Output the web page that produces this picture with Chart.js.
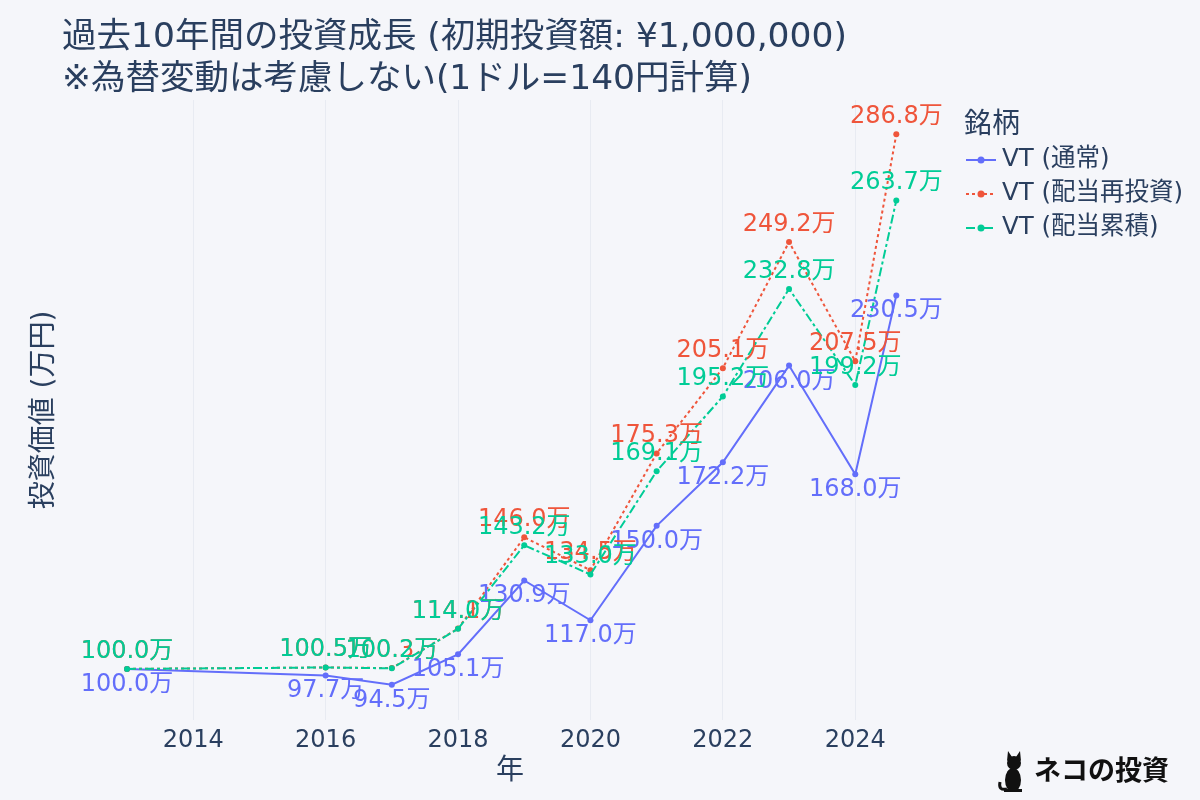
<!DOCTYPE html>
<html>
<head>
<meta charset="utf-8">
<script src="https://cdn.jsdelivr.net/npm/chart.js@4.4.1/dist/chart.umd.min.js"></script>
<style>
  html, body { margin: 0; background: #f5f6fa; }
  #wrap { width: 1200px; height: 800px; }
</style>
</head>
<body>
<div id="wrap"><canvas id="chart" width="1200" height="800"></canvas></div>
<script>
// values (万円)
const years = [2013, 2016, 2017, 2018, 2019, 2020, 2021, 2022, 2023, 2024, 2024.62];
const vtNormal = [100.0, 97.7, 94.5, 105.1, 130.9, 117.0, 150.0, 172.2, 206.0, 168.0, 230.5];
const vtReinvest = [100.0, 100.5, 100.3, 114.1, 146.0, 134.5, 175.3, 205.1, 249.2, 207.5, 286.8];
const vtAccum = [100.0, 100.5, 100.2, 114.0, 143.2, 133.0, 169.1, 195.2, 232.8, 199.2, 263.7];
const tickYears = [2014, 2016, 2018, 2020, 2022, 2024];
const seriesNames = ["VT (通常)", "VT (配当再投資)", "VT (配当累積)"];

const FONT = '"DejaVu Sans", "Noto Sans CJK JP", sans-serif';
const TEXT = "#2a3f5f";
const BG = "#f5f6fa";

const toPoints = (vals) => vals.map((v, i) => ({ x: years[i], y: v }));

const makeSet = (name, vals, color, dash, order, labelPos) => ({
  label: name,
  data: toPoints(vals),
  borderColor: color,
  backgroundColor: color,
  borderWidth: 2,
  borderDash: dash,
  pointRadius: 3,
  pointBorderWidth: 0,
  pointBackgroundColor: color,
  tension: 0,
  fill: false,
  order: order,
  labelPos: labelPos,
});

const datasets = [
  makeSet(seriesNames[0], vtNormal, "#636efa", [], 2, "below"),
  makeSet(seriesNames[1], vtReinvest, "#ef553b", [3, 3], 1, "above"),
  makeSet(seriesNames[2], vtAccum, "#00cc96", [9, 3, 3, 3], 0, "above"),
];

const bgPlugin = {
  id: "bg",
  beforeDraw(chart) {
    const ctx = chart.ctx;
    ctx.save();
    ctx.fillStyle = BG;
    ctx.fillRect(0, 0, chart.width, chart.height);
    ctx.restore();
  },
};

// value labels: 青は点の下、赤・緑は点の上
const labelPlugin = {
  id: "pointLabels",
  afterDatasetsDraw(chart) {
    const ctx = chart.ctx;
    ctx.save();
    ctx.font = "24px " + FONT;
    ctx.textAlign = "center";
    ctx.textBaseline = "alphabetic";
    chart.data.datasets.forEach((ds, i) => {
      const meta = chart.getDatasetMeta(i);
      ctx.fillStyle = ds.borderColor;
      meta.data.forEach((pt, j) => {
        const txt = ds.data[j].y.toFixed(1) + "万";
        const y = ds.labelPos === "below" ? pt.y + 22 : pt.y - 11;
        ctx.fillText(txt, pt.x, y);
      });
    });
    ctx.restore();
  },
};

const decorPlugin = {
  id: "decor",
  afterDraw(chart) {
    const ctx = chart.ctx;
    const area = chart.chartArea;
    ctx.save();
    ctx.fillStyle = TEXT;
    ctx.textAlign = "left";
    ctx.textBaseline = "middle";
    ctx.font = "34.5px " + FONT;
    ctx.fillText("過去10年間の投資成長 (初期投資額: ¥1,000,000)", 62, 38);
    ctx.fillText("※為替変動は考慮しない(1ドル=140円計算)", 62, 80);

    // axis titles
    ctx.font = "28px " + FONT;
    ctx.textAlign = "center";
    ctx.fillText("年", (area.left + area.right) / 2, 772);
    ctx.save();
    ctx.translate(45, (area.top + area.bottom) / 2);
    ctx.rotate(-Math.PI / 2);
    ctx.fillText("投資価値 (万円)", 0, 0);
    ctx.restore();

    // legend
    ctx.textAlign = "left";
    ctx.font = "28px " + FONT;
    ctx.fillText("銘柄", 964, 126);
    ctx.font = "24.5px " + FONT;
    const rows = [160, 194, 228];
    chart.data.datasets.forEach((ds, i) => {
      const y = rows[i];
      ctx.strokeStyle = ds.borderColor;
      ctx.lineWidth = 2;
      ctx.setLineDash(ds.borderDash);
      ctx.beginPath();
      ctx.moveTo(966, y);
      ctx.lineTo(996, y);
      ctx.stroke();
      ctx.setLineDash([]);
      ctx.fillStyle = ds.borderColor;
      ctx.beginPath();
      ctx.arc(981, y, 3.5, 0, Math.PI * 2);
      ctx.fill();
      ctx.fillStyle = TEXT;
      ctx.fillText(ds.label, 1002, y);
    });

    // watermark cat + ネコの投資
    ctx.fillStyle = "#111";
    ctx.beginPath();
    ctx.ellipse(1013, 780, 8, 12, 0, 0, Math.PI * 2);
    ctx.fill();
    ctx.beginPath();
    ctx.arc(1014, 763, 7, 0, Math.PI * 2);
    ctx.fill();
    ctx.beginPath();
    ctx.moveTo(1007, 761); ctx.lineTo(1008, 751); ctx.lineTo(1012, 757); ctx.closePath();
    ctx.moveTo(1021, 761); ctx.lineTo(1020, 751); ctx.lineTo(1016, 757); ctx.closePath();
    ctx.fill();
    ctx.strokeStyle = "#111";
    ctx.lineWidth = 3;
    ctx.beginPath();
    ctx.moveTo(1007, 789);
    ctx.quadraticCurveTo(998, 791, 1000, 782);
    ctx.stroke();
    ctx.fillRect(1004, 789, 18, 3);
    ctx.font = "bold 27px " + FONT;
    ctx.textBaseline = "middle";
    ctx.fillText("ネコの投資", 1034, 773);
    ctx.restore();
  },
};

new Chart(document.getElementById("chart"), {
  type: "line",
  data: { datasets: datasets },
  options: {
    responsive: false,
    animation: false,
    layout: { padding: { left: 80, top: 100, right: 260, bottom: 0 } },
    plugins: {
      legend: { display: false },
      title: { display: false },
      tooltip: { enabled: false },
    },
    scales: {
      x: {
        type: "linear",
        min: 2012.29,
        max: 2025.28,
        afterBuildTicks: (s) => {
          s.ticks = tickYears.map((v) => ({ value: v }));
        },
        afterFit: (s) => {
          s.height = 80;
        },
        grid: { color: "#e8ebf2", lineWidth: 1, drawTicks: false },
        border: { display: false },
        ticks: {
          color: TEXT,
          font: { family: FONT, size: 24 },
          padding: 6,
          maxRotation: 0,
          autoSkip: false,
          callback: (v) => String(v),
        },
      },
      y: { display: false, min: 82.15, max: 298.8 },
    },
  },
  plugins: [bgPlugin, labelPlugin, decorPlugin],
});
</script>
</body>
</html>
